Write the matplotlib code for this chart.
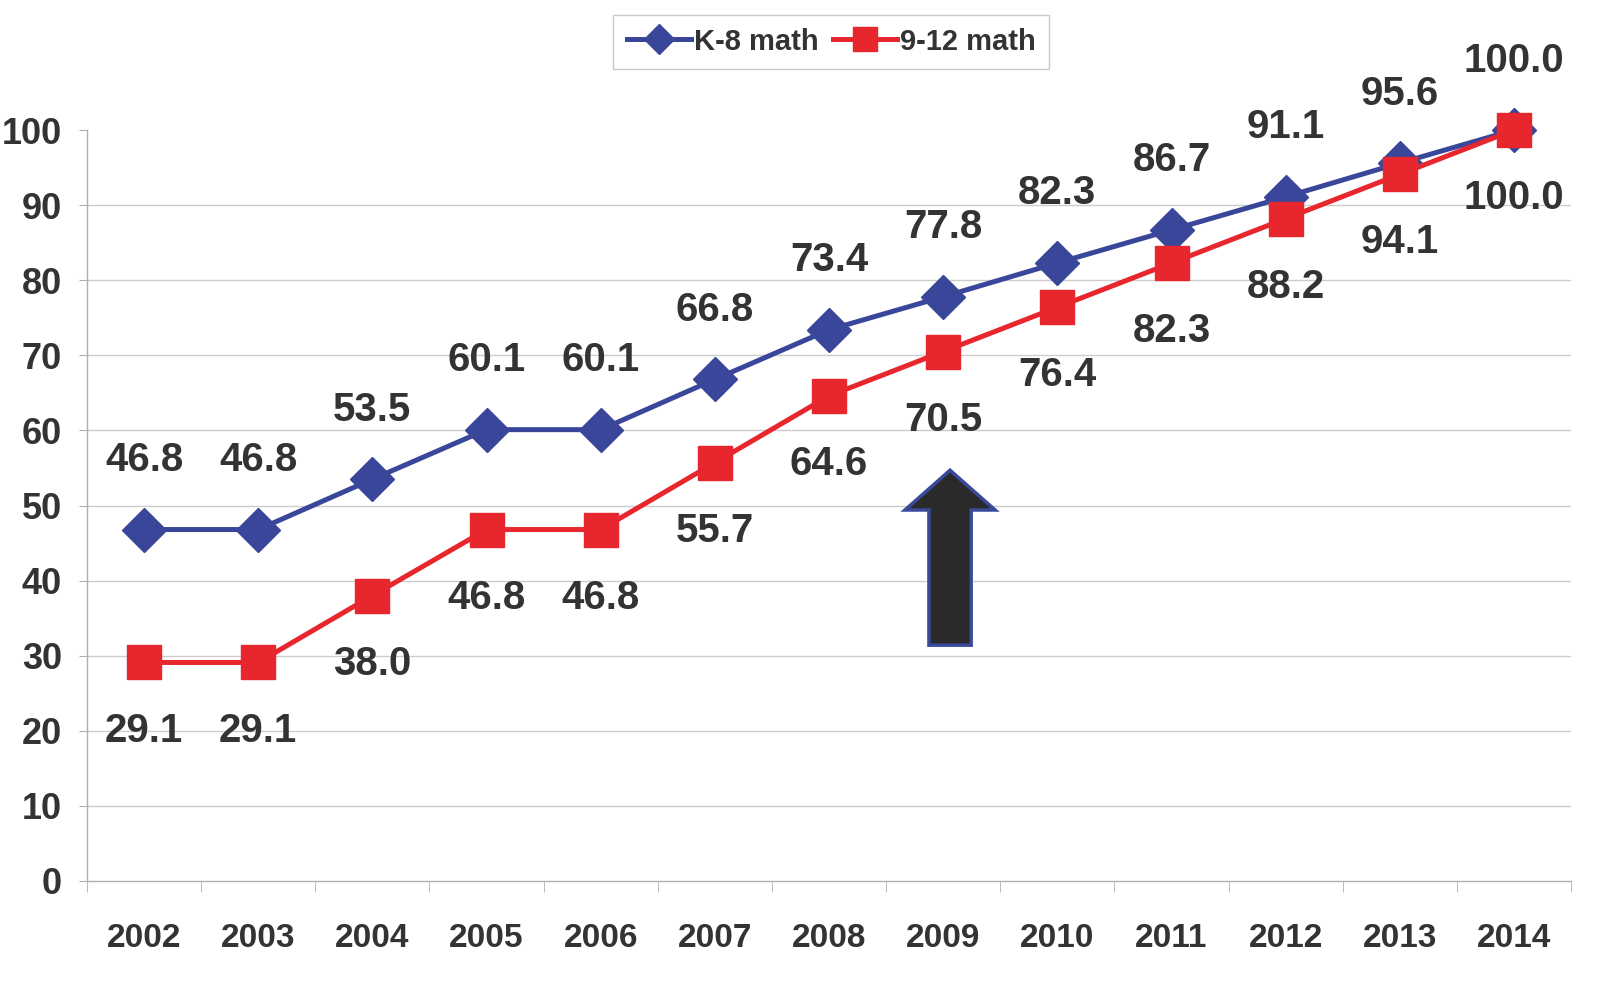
import matplotlib
matplotlib.use("Agg")
import matplotlib.pyplot as plt
from matplotlib.patches import FancyArrow
import numpy as np

years = ['2002', '2003', '2004', '2005', '2006', '2007', '2008',
         '2009', '2010', '2011', '2012', '2013', '2014']
k8_math = [46.8, 46.8, 53.5, 60.1, 60.1, 66.8, 73.4, 77.8, 82.3, 86.7, 91.1, 95.6, 100.0]
hs_math = [29.1, 29.1, 38.0, 46.8, 46.8, 55.7, 64.6, 70.5, 76.4, 82.3, 88.2, 94.1, 100.0]
y_ticks = [0, 10, 20, 30, 40, 50, 60, 70, 80, 90, 100]

plt.rcParams['font.family'] = ['Liberation Sans Narrow', 'Liberation Sans', 'DejaVu Sans']
plt.rcParams['font.weight'] = 'bold'

BLUE = '#3a4699'
RED = '#e8262d'
TXT = '#333333'

fig = plt.figure(figsize=(16.17, 9.88), dpi=100)
ax = fig.add_axes([0.0538, 0.1083, 0.9178, 0.7601])

x = np.arange(len(years))
ax.plot(x, k8_math, color=BLUE, lw=3.6, marker='D', ms=22, mec=BLUE, mfc=BLUE,
        label='K-8 math', clip_on=False, zorder=4)
ax.plot(x, hs_math, color=RED, lw=3.6, marker='s', ms=24, mec=RED, mfc=RED,
        label='9-12 math', clip_on=False, zorder=5)

for xi, v in zip(x, k8_math):
    ax.annotate(f'{v:.1f}', (xi, v), xytext=(0, 50), textcoords='offset points',
                ha='center', va='center', fontsize=29, color=TXT, fontweight='bold')
for xi, v in zip(x, hs_math):
    ax.annotate(f'{v:.1f}', (xi, v), xytext=(0, -49), textcoords='offset points',
                ha='center', va='center', fontsize=29, color=TXT, fontweight='bold')

# arrow at 2009
arrow = FancyArrow(7.06, 31.4, 0, 23.3, width=0.37, head_width=0.79, head_length=5.3,
                   length_includes_head=True, fc='#2a2a2a', ec='#3a4a9a', lw=2.5, zorder=3)
ax.add_patch(arrow)

ax.set_xlim(-0.5, len(years) - 0.5)
ax.set_ylim(0, 100)
ax.set_yticks(y_ticks)
ax.set_yticklabels([str(t) for t in y_ticks])
ax.set_xticks(x)
ax.set_xticklabels(years)
ax.set_xticks(np.arange(-0.5, len(years), 1.0), minor=True)

ax.tick_params(axis='x', which='major', length=0, pad=30, labelsize=24, labelcolor=TXT)
ax.tick_params(axis='x', which='minor', length=8, color='#b0b0b0', direction='out')
ax.tick_params(axis='y', length=6, color='#b0b0b0', pad=12, labelsize=26, labelcolor=TXT)

for t in y_ticks[1:-1]:
    ax.axhline(t, color='#cccccc', lw=1.0, zorder=1)

for s in ['top', 'right']:
    ax.spines[s].set_visible(False)
for s in ['left', 'bottom']:
    ax.spines[s].set_color('#b0b0b0')
    ax.spines[s].set_linewidth(1.0)

leg = fig.legend(loc='upper center', bbox_to_anchor=(0.514, 1.0), ncol=2,
                 fontsize=21, frameon=True, fancybox=False, edgecolor='#bbbbbb',
                 handlelength=2.2, handletextpad=0.1, columnspacing=0.5,
                 markerscale=0.7, borderpad=0.45)
for t in leg.get_texts():
    t.set_color(TXT)
    t.set_fontweight('bold')

fig.savefig('out.png', dpi=100)
